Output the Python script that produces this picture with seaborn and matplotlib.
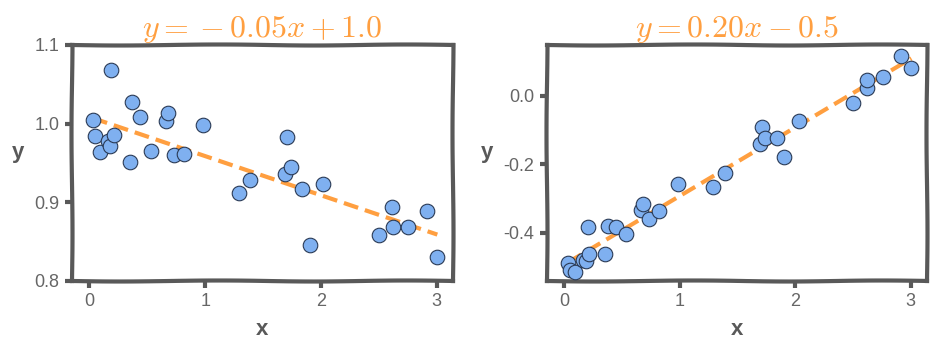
import numpy as np
import pandas as pd
import matplotlib
matplotlib.use("Agg")
import matplotlib.pyplot as plt
import seaborn as sns

# DATOS
x_left = [0.03, 0.05, 0.09, 0.16, 0.18, 0.19, 0.21, 0.35, 0.37, 0.44, 0.53, 0.66, 0.68, 0.73, 0.82,
          0.985, 1.29, 1.39, 1.69, 1.705, 1.74, 1.84, 1.905, 2.02, 2.50, 2.61, 2.625, 2.75, 2.915, 3.005]
y_left = [1.005, 0.984, 0.964, 0.978, 0.971, 1.068, 0.985, 0.951, 1.027, 1.009, 0.965, 1.003, 1.013, 0.960, 0.961,
          0.998, 0.912, 0.929, 0.936, 0.983, 0.945, 0.917, 0.846, 0.923, 0.858, 0.894, 0.868, 0.869, 0.889, 0.830]

x_right = [0.035, 0.052, 0.095, 0.158, 0.187, 0.201, 0.21, 0.351, 0.38, 0.446, 0.532, 0.667, 0.684, 0.733, 0.82,
           0.986, 1.288, 1.395, 1.697, 1.711, 1.734, 1.841, 1.904, 2.028, 2.496, 2.617, 2.617, 2.755, 2.919, 3.005]
y_right = [-0.487, -0.507, -0.514, -0.480, -0.482, -0.382, -0.460, -0.462, -0.379, -0.382, -0.402, -0.332, -0.317, -0.360, -0.336,
           -0.256, -0.267, -0.224, -0.141, -0.091, -0.122, -0.122, -0.178, -0.073, -0.020, 0.024, 0.046, 0.055, 0.117, 0.080]

titles = ["$y={}-0.05x+1.0$", "$y=0.20x-0.5$"]
ylims = [(0.8, 1.1), (-0.54, 0.148)]
yticks = [[0.8, 0.9, 1.0, 1.1], [-0.4, -0.2, 0.0]]

sns.set_theme(style="white")
plt.rcParams["font.family"] = ["Liberation Sans", "DejaVu Sans"]
plt.rcParams["mathtext.fontset"] = "cm"
plt.rcParams["axes.unicode_minus"] = False

gris = "#595959"
naranja = "#ff9f40"
azul = "#7fb0f0"

fig = plt.figure(figsize=(9.39, 3.56), dpi=100)
ax1 = fig.add_axes([0.0767, 0.2107, 0.4057, 0.6629])
ax2 = fig.add_axes([0.5825, 0.2107, 0.4047, 0.6629])

paneles = [(ax1, x_left, y_left), (ax2, x_right, y_right)]
for i, (ax, xs, ys) in enumerate(paneles):
    df = pd.DataFrame({"x": xs, "y": ys})
    sns.regplot(data=df, x="x", y="y", ax=ax, scatter=False, ci=None,
                line_kws={"color": naranja, "lw": 3, "ls": (0, (3.6, 1.7)), "zorder": 2})
    sns.scatterplot(data=df, x="x", y="y", ax=ax, color=azul, s=110,
                    edgecolor="#2a3a55", linewidth=0.8, zorder=3)
    ax.set_xlim(-0.15, 3.14)
    ax.set_ylim(*ylims[i])
    ax.set_xticks([0, 1, 2, 3])
    ax.set_yticks(yticks[i])
    ax.set_title(titles[i], color=naranja, fontsize=23, pad=5)
    ax.set_xlabel("x", fontsize=16, fontweight="bold", color=gris, labelpad=6)
    ax.set_ylabel("y", fontsize=16, fontweight="bold", color=gris, rotation=0, labelpad=12)
    ax.tick_params(axis="both", which="both", direction="out", length=5, width=3,
                   color=gris, labelcolor="#666666", labelsize=13, pad=4,
                   bottom=True, left=True)
    for sp in ax.spines.values():
        sp.set_color(gris)
        sp.set_linewidth(3)
        sp.set_sketch_params(0.5, 200, 1.5)

fig.savefig("out.png", dpi=100)
